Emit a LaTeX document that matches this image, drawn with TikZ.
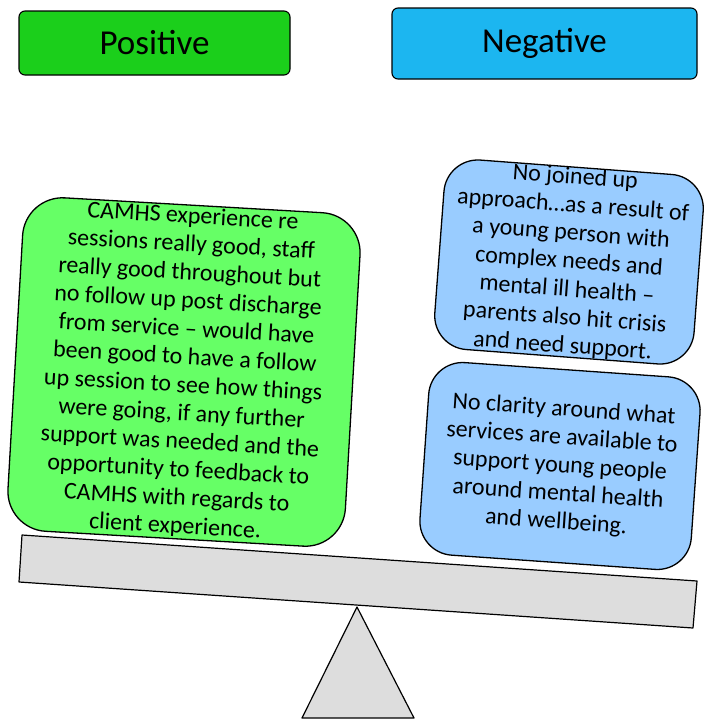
\documentclass[tikz,border=0pt]{standalone}
\usepackage{fontspec}
\setmainfont{Carlito}
\usepackage{tikz}
\usetikzlibrary{positioning}
\usepackage{xcolor}
\definecolor{posgreen}{HTML}{1BCF1B}
\definecolor{neghead}{HTML}{1CB6F0}
\definecolor{softgreen}{HTML}{66FF66}
\definecolor{softblue}{HTML}{99CCFF}
\definecolor{beamgrey}{HTML}{DDDDDD}

\begin{document}
\begin{tikzpicture}[
  x=1pt,y=-1pt,
  headbox/.style={draw=black,line width=1.1pt,rounded corners=6pt,align=center,font=\fontsize{35}{40}\selectfont},
  notebox/.style={draw=black,line width=1.3pt,align=center,inner sep=0pt,font=\fontsize{24}{28.2}\selectfont},
  scalepart/.style={draw=black,line width=1.2pt,fill=beamgrey,line join=round}
]
\useasboundingbox (0,0) rectangle (707,720);
% headers
\node[headbox,fill=posgreen,minimum width=271pt,minimum height=64pt] (positive) at (154.5,43) {Positive};
\node[headbox,fill=neghead,minimum width=305pt,minimum height=71pt] (negative) at (544.5,43.5) {Negative};
% scale
\draw[scalepart] (357,607) -- (414,718) -- (302,718) -- cycle;
\draw[scalepart] (22,535) -- (697,581) -- (693,628) -- (19,582) -- cycle;
% comments
\node[notebox,fill=softgreen,rounded corners=40pt,minimum width=338pt,minimum height=334pt,rotate=-3.3] (camhs) at (184,372)
  {CAMHS experience re\\sessions really good, staff\\really good throughout but\\no follow up post discharge\\from service -- would have\\been good to have a follow\\up session to see how things\\were going, if any further\\support was needed and the\\opportunity to feedback to\\CAMHS with regards to\\client experience.};
\node[notebox,fill=softblue,rounded corners=34pt,minimum width=260pt,minimum height=190pt,rotate=-4.3] (joined) at (569,262)
  {No joined up\\approach\dots as a result of\\a young person with\\complex needs and\\mental ill health --\\parents also hit crisis\\and need support.};
\node[notebox,fill=softblue,rounded corners=34pt,minimum width=272pt,minimum height=193pt,rotate=-4] (clarity) at (560,466)
  {No clarity around what\\services are available to\\support young people\\around mental health\\and wellbeing.};
\end{tikzpicture}
\end{document}
